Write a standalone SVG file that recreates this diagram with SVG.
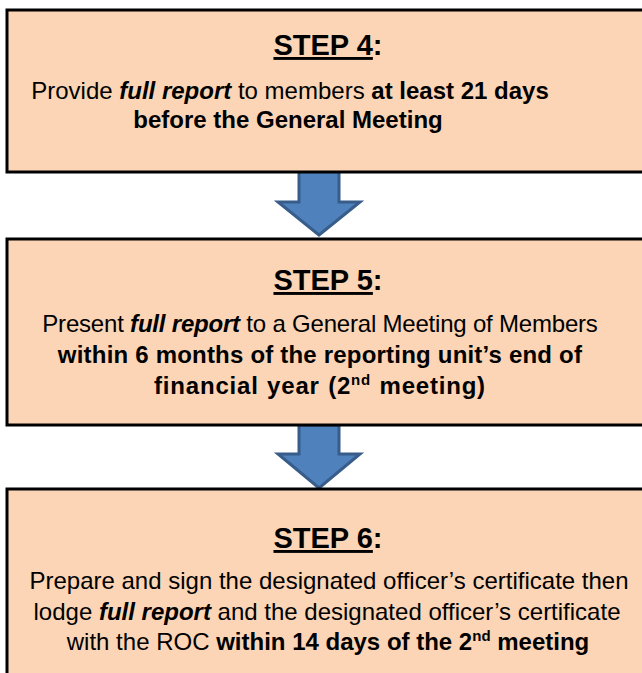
<svg xmlns="http://www.w3.org/2000/svg" width="642" height="673" viewBox="0 0 642 673">
<style>
.box{fill:#FBD5B5;stroke:#000;stroke-width:3}
.arrow{fill:#4F81BD;stroke:#385D8A;stroke-width:3;stroke-linejoin:miter}
text{font-family:"Liberation Sans",Arial,sans-serif;fill:#000}
.h{font-size:29px;font-weight:bold;text-anchor:middle}
.t{font-size:24px;text-anchor:middle}
.b{font-weight:bold}
.i{font-weight:bold;font-style:italic}
.u{text-decoration:underline}
.sup{font-size:15px}
</style>
<rect width="642" height="673" fill="#fff"/>
<g id="connectors">
<path class="arrow" d="M299,171 L339,171 L339,202 L360,202 L319,235 L278,202 L299,202 Z"/>
<path class="arrow" d="M299,425 L339,425 L339,454 L360,454 L319,488 L278,454 L299,454 Z"/>
</g>
<g id="step4">
<rect class="box" x="7" y="10" width="650" height="162"/>
<text class="h" x="328" y="55"><tspan class="u">STEP 4</tspan>:</text>
<text class="t" x="290" y="99">Provide <tspan class="i">full report</tspan> to members <tspan class="b">at least 21 days</tspan></text>
<text class="t" x="288" y="128"><tspan class="b">before the General Meeting</tspan></text>
</g>
<g id="step5">
<rect class="box" x="7" y="239" width="650" height="186"/>
<text class="h" x="328" y="290"><tspan class="u">STEP 5</tspan>:</text>
<text class="t" x="320" y="332" letter-spacing="-0.2">Present <tspan class="i">full report</tspan> to a General Meeting of Members</text>
<text class="t b" x="320" y="363" letter-spacing="0.2">within 6 months of the reporting unit’s end of</text>
<text class="t b" x="320" y="394" letter-spacing="0.8" word-spacing="1">financial year (2<tspan class="sup" dy="-9">nd</tspan><tspan dy="9"> meeting)</tspan></text>
</g>
<g id="step6">
<rect class="box" x="7" y="489" width="650" height="200"/>
<text class="h" x="328" y="548"><tspan class="u">STEP 6</tspan>:</text>
<text class="t" x="329" y="589">Prepare and sign the designated officer’s certificate then</text>
<text class="t" x="327" y="620">lodge <tspan class="i">full report</tspan> and the designated officer’s certificate</text>
<text class="t" x="328" y="650">with the ROC <tspan class="b">within 14 days of the 2<tspan class="sup" dy="-9">nd</tspan><tspan dy="9"> meeting</tspan></tspan></text>
</g>
</svg>
